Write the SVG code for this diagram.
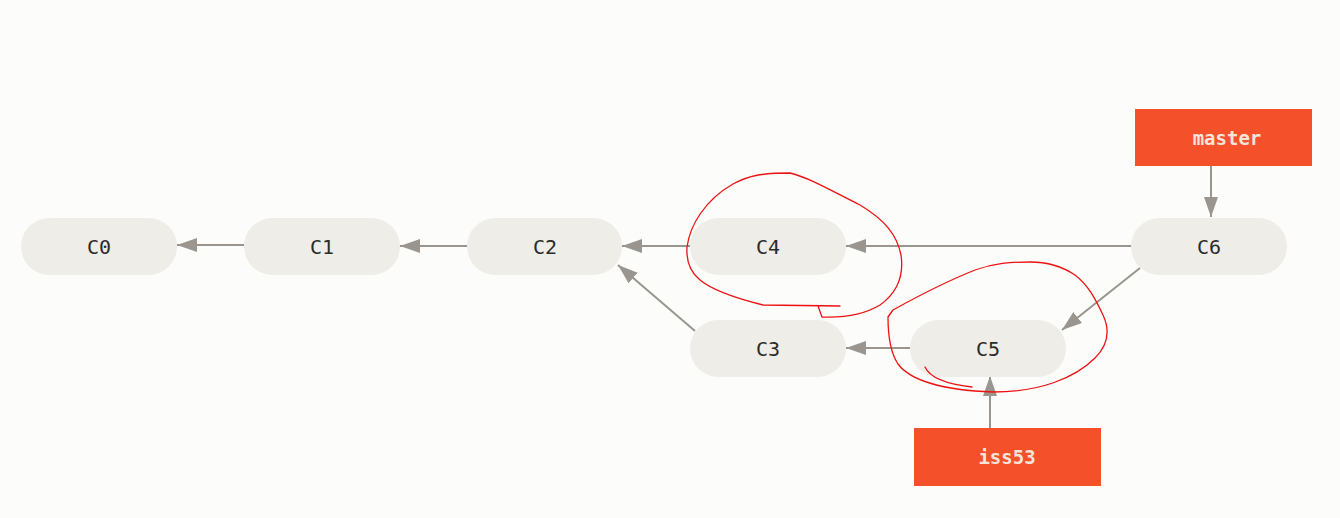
<svg xmlns="http://www.w3.org/2000/svg" width="1340" height="518" viewBox="0 0 1340 518">
  <defs>
    <marker id="arrow" viewBox="0 0 20 14" refX="20" refY="7" markerWidth="20" markerHeight="14" markerUnits="userSpaceOnUse" orient="auto">
      <path d="M0,0 L20,7 L0,14 Z" fill="#9a958f"/>
    </marker>
    <style>
      .commit rect { fill: #eeede8; }
      .branch rect { fill: #f4502a; }
      .commit text { font-family: "DejaVu Sans Mono", "Liberation Mono", monospace; font-size: 20px; fill: #2b2b2b; text-anchor: middle; dominant-baseline: central; }
      .branch text { font-family: "DejaVu Sans Mono", "Liberation Mono", monospace; font-size: 19px; font-weight: bold; fill: #f6e4dc; text-anchor: middle; dominant-baseline: central; }
      .edge { stroke: #9a958f; stroke-width: 2; fill: none; marker-end: url(#arrow); }
      .ink { stroke: #ee1111; stroke-width: 1.3; fill: none; stroke-linecap: round; stroke-linejoin: round; }
    </style>
  </defs>

  <rect width="1340" height="518" fill="#fcfcfa"/>

  <!-- connectors -->
  <g id="connectors">
    <line class="edge" x1="244" y1="245" x2="177" y2="245"/>
    <line class="edge" x1="467" y1="246" x2="400" y2="246"/>
    <line class="edge" x1="690" y1="246" x2="622" y2="246"/>
    <line class="edge" x1="1131" y1="246" x2="846" y2="246"/>
    <line class="edge" x1="695" y1="331" x2="618" y2="265"/>
    <line class="edge" x1="910" y1="348" x2="846" y2="348"/>
    <line class="edge" x1="1140" y1="268" x2="1062" y2="330"/>
    <line class="edge" x1="1211" y1="166" x2="1211" y2="217"/>
    <line class="edge" x1="990" y1="428" x2="990" y2="376"/>
  </g>

  <!-- commits -->
  <g id="C0" class="commit"><rect x="21" y="218" width="156" height="57" rx="28.5"/><text x="99" y="247">C0</text></g>
  <g id="C1" class="commit"><rect x="244" y="218" width="156" height="57" rx="28.5"/><text x="322" y="247">C1</text></g>
  <g id="C2" class="commit"><rect x="467" y="218" width="155" height="57" rx="28.5"/><text x="545" y="247">C2</text></g>
  <g id="C4" class="commit"><rect x="690" y="218" width="156" height="57" rx="28.5"/><text x="768" y="247">C4</text></g>
  <g id="C6" class="commit"><rect x="1131" y="218" width="156" height="57" rx="28.5"/><text x="1209" y="247">C6</text></g>
  <g id="C3" class="commit"><rect x="690" y="320" width="156" height="57" rx="28.5"/><text x="768" y="349">C3</text></g>
  <g id="C5" class="commit"><rect x="910" y="320" width="156" height="57" rx="28.5"/><text x="988" y="349">C5</text></g>

  <!-- branch pointers -->
  <g id="master" class="branch"><rect x="1135" y="109" width="177" height="57"/><text x="1227" y="138">master</text></g>
  <g id="iss53" class="branch"><rect x="914" y="428" width="187" height="58"/><text x="1007" y="457">iss53</text></g>

  <!-- hand-drawn marks -->
  <g id="marks">
    <path class="ink" d="M840,306 L763,305 C735,298 712,290 700,280 C690,272 686,262 687,247 C690,225 705,200 733,184 C748,176 760,173 790,173 C810,178 830,190 860,205 C885,220 897,235 901,255 C904,275 898,292 880,305 C865,314 845,318 822,317 L818,306"/>
    <path class="ink" d="M925,367 C930,378 945,384 972,387"/>
    <path class="ink" d="M888,317 C888,335 890,352 898,364 C910,380 940,390 993,392 C1040,392 1075,378 1095,358 C1108,345 1110,330 1103,315 C1095,298 1088,285 1075,275 C1060,265 1045,262 1030,262 C1010,262 995,263 975,270 C950,280 920,295 893,310 Z"/>
  </g>
</svg>
